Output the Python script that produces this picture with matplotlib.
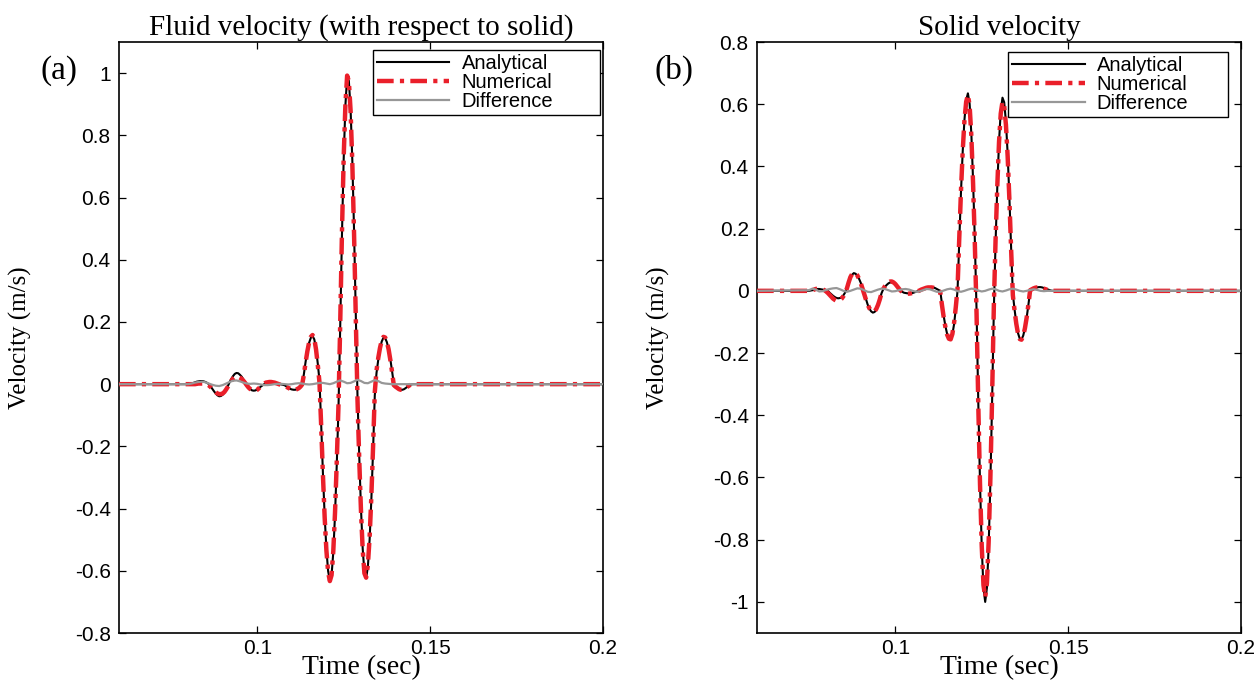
import numpy as np
import matplotlib
matplotlib.use("Agg")
import matplotlib.pyplot as plt

plt.rcParams['lines.scale_dashes'] = False
SANS = ['Liberation Sans', 'DejaVu Sans']
SERIF = ['Liberation Serif', 'DejaVu Serif']

# ---------------- data ----------------
# dense sampling grid for the wavelets: starts at 0.075 s, step 0.5 ms
T0_DENSE = 0.075
DT_DENSE = 0.0005
# difference curves: starts at 0.075 s, step 1 ms
T0_DIFF = 0.075
DT_DIFF = 0.001
T_MIN, T_MAX = 0.06, 0.2

# (a) fluid velocity (with respect to solid), rows of 10 samples (0.005 s)
fluid_analytical = [
    0, 0, 0, 0, 0, 0, 0, 0, 0, 0,                                              # 0.0750
    0.000, 0.001, 0.002, 0.004, 0.006, 0.008, 0.009, 0.010, 0.010, 0.009,      # 0.0800
    0.007, 0.004, 0.000, -0.007, -0.015, -0.023, -0.030, -0.036, -0.039, -0.038,  # 0.0850
    -0.034, -0.027, -0.017, -0.006, 0.006, 0.017, 0.026, 0.033, 0.036, 0.035,  # 0.0900
    0.030, 0.024, 0.015, 0.006, -0.003, -0.010, -0.016, -0.020, -0.021, -0.020,  # 0.0950
    -0.017, -0.013, -0.008, -0.004, 0.000, 0.002, 0.003, 0.004, 0.004, 0.004,  # 0.1000
    0.003, 0.002, 0.001, 0.000, -0.001, -0.002, -0.004, -0.008, -0.012, -0.015,  # 0.1050
    -0.017, -0.018, -0.018, -0.016, -0.012, -0.006, 0.000, 0.033, 0.073, 0.107,  # 0.1100
    0.133, 0.149, 0.155, 0.144, 0.114, 0.067, 0.012, -0.131, -0.287, -0.423,   # 0.1150
    -0.530, -0.601, -0.631, -0.614, -0.540, -0.419, -0.259, -0.077, 0.185, 0.477,  # 0.1200
    0.722, 0.896, 0.990, 0.975, 0.884, 0.720, 0.495, 0.228, -0.039, -0.230,    # 0.1250
    -0.398, -0.528, -0.606, -0.624, -0.587, -0.501, -0.373, -0.214, -0.036, 0.036,  # 0.1300
    0.078, 0.112, 0.137, 0.149, 0.148, 0.135, 0.112, 0.080, 0.042, 0.000,     # 0.1350
    -0.006, -0.011, -0.015, -0.018, -0.018, -0.016, -0.012, -0.008, -0.004, -0.001,  # 0.1400
    0.000, 0.000, 0.000,                                                       # 0.1450
]
fluid_numerical = [
    0, 0, 0, 0, 0, 0, 0, 0, 0, 0,
    0.000, 0.000, 0.000, 0.000, 0.000, 0.001, 0.002, 0.002, 0.002, 0.002,
    0.001, -0.001, -0.004, -0.009, -0.015, -0.021, -0.026, -0.030, -0.032, -0.032,
    -0.030, -0.025, -0.017, -0.008, 0.002, 0.011, 0.018, 0.023, 0.025, 0.024,
    0.021, 0.017, 0.011, 0.004, -0.004, -0.011, -0.016, -0.020, -0.022, -0.021,
    -0.018, -0.013, -0.007, -0.002, 0.002, 0.005, 0.006, 0.007, 0.007, 0.006,
    0.005, 0.003, 0.001, -0.001, -0.003, -0.004, -0.006, -0.009, -0.012, -0.015,
    -0.017, -0.018, -0.018, -0.016, -0.013, -0.008, -0.001, 0.031, 0.071, 0.106,
    0.134, 0.152, 0.158, 0.146, 0.112, 0.063, 0.006, -0.136, -0.292, -0.428,
    -0.534, -0.604, -0.633, -0.614, -0.536, -0.412, -0.250, -0.067, 0.195, 0.485,
    0.727, 0.899, 0.992, 0.974, 0.879, 0.712, 0.485, 0.216, -0.050, -0.240,
    -0.405, -0.532, -0.608, -0.622, -0.582, -0.494, -0.363, -0.203, -0.026, 0.044,
    0.084, 0.116, 0.140, 0.152, 0.150, 0.136, 0.112, 0.078, 0.039, -0.003,
    -0.008, -0.012, -0.016, -0.018, -0.018, -0.016, -0.012, -0.008, -0.004, -0.001,
    0.000, 0.000, 0.000,
]
fluid_difference = [
    0, 0, 0, 0, 0,                                                             # 0.075
    0.000, 0.002, 0.005, 0.007, 0.008, 0.006, 0.002, -0.002, -0.005, -0.006,   # 0.080
    -0.003, 0.002, 0.007, 0.011, 0.012, 0.009, 0.005, 0.002, 0.001, 0.002,     # 0.090
    0.001, -0.001, -0.003, -0.003, -0.002, 0.000, 0.001, 0.001, 0.000, -0.001, # 0.100
    0.000, 0.002, 0.003, 0.002, 0.000, -0.001, 0.000, 0.002, 0.004, 0.004,     # 0.110
    0.002, 0.000, 0.003, 0.008, 0.012, 0.008, 0.003, 0.004, 0.009, 0.014,      # 0.120
    0.010, 0.004, 0.003, 0.008, 0.013, 0.010, 0.004, 0.002, 0.001, 0.000,      # 0.130
    0, 0, 0, 0, 0, 0, 0,                                                       # 0.140
]

# (b) solid velocity
solid_analytical = [
    0.000, 0.001, 0.002, 0.003, 0.005, 0.006, 0.006, 0.005, 0.004, 0.003,      # 0.0750
    0.001, 0.000, -0.006, -0.011, -0.016, -0.020, -0.023, -0.024, -0.023, -0.020,  # 0.0800
    -0.014, -0.005, 0.008, 0.026, 0.042, 0.052, 0.057, 0.055, 0.049, 0.039,    # 0.0850
    0.026, 0.010, -0.008, -0.027, -0.044, -0.057, -0.066, -0.070, -0.068, -0.060,  # 0.0900
    -0.046, -0.029, -0.008, 0.005, 0.013, 0.019, 0.024, 0.027, 0.027, 0.025,   # 0.0950
    0.021, 0.015, 0.008, 0.000, -0.003, -0.006, -0.007, -0.008, -0.008, -0.008,  # 0.1000
    -0.007, -0.005, -0.003, -0.001, 0.000, 0.003, 0.006, 0.009, 0.011, 0.012,  # 0.1050
    0.012, 0.012, 0.011, 0.009, 0.006, 0.003, 0.000, -0.042, -0.081, -0.114,   # 0.1100
    -0.139, -0.153, -0.157, -0.141, -0.107, -0.057, 0.000, 0.164, 0.318, 0.449,  # 0.1150
    0.550, 0.613, 0.635, 0.601, 0.504, 0.353, 0.164, -0.061, -0.355, -0.617,   # 0.1200
    -0.823, -0.955, -1.000, -0.955, -0.823, -0.617, -0.355, -0.061, 0.155, 0.333,  # 0.1250
    0.479, 0.578, 0.621, 0.606, 0.544, 0.440, 0.300, 0.139, -0.010, -0.060,    # 0.1300
    -0.103, -0.136, -0.154, -0.156, -0.144, -0.120, -0.086, -0.045, 0.000, 0.003,  # 0.1350
    0.006, 0.009, 0.011, 0.012, 0.012, 0.011, 0.009, 0.007, 0.005, 0.003,      # 0.1400
    0.001, 0.000, 0.000,                                                       # 0.1450
]
solid_numerical = [
    0.000, 0.001, 0.002, 0.004, 0.006, 0.007, 0.008, 0.007, 0.005, 0.002,
    -0.002, -0.007, -0.013, -0.019, -0.025, -0.029, -0.032, -0.032, -0.030, -0.025,
    -0.017, -0.006, 0.008, 0.027, 0.044, 0.054, 0.059, 0.057, 0.050, 0.039,
    0.025, 0.008, -0.010, -0.028, -0.044, -0.056, -0.064, -0.067, -0.066, -0.058,
    -0.045, -0.028, -0.008, 0.006, 0.015, 0.022, 0.027, 0.030, 0.030, 0.027,
    0.022, 0.015, 0.008, 0.001, -0.003, -0.006, -0.008, -0.009, -0.009, -0.008,
    -0.007, -0.005, -0.003, -0.001, 0.001, 0.004, 0.006, 0.008, 0.010, 0.011,
    0.011, 0.011, 0.010, 0.008, 0.005, 0.001, -0.004, -0.046, -0.085, -0.117,
    -0.141, -0.154, -0.156, -0.139, -0.103, -0.052, 0.007, 0.170, 0.322, 0.450,
    0.548, 0.608, 0.630, 0.595, 0.497, 0.344, 0.154, -0.072, -0.364, -0.620,
    -0.820, -0.946, -0.985, -0.940, -0.808, -0.603, -0.342, -0.050, 0.163, 0.336,
    0.478, 0.570, 0.608, 0.594, 0.534, 0.432, 0.293, 0.134, -0.014, -0.064,
    -0.106, -0.138, -0.155, -0.157, -0.145, -0.120, -0.086, -0.044, 0.002, 0.005,
    0.008, 0.010, 0.011, 0.011, 0.010, 0.009, 0.007, 0.005, 0.003, 0.001,
    0.000, 0.000, 0.000,
]
solid_difference = [
    0.002, 0.007, 0.004, -0.002, -0.001,                                       # 0.075
    0.003, 0.006, 0.008, 0.009, 0.005, 0.000, -0.003, 0.000, 0.004, 0.008,     # 0.080
    0.007, 0.002, -0.003, -0.004, 0.000, 0.004, 0.007, 0.006, 0.002, -0.002,   # 0.090
    -0.001, 0.002, 0.005, 0.006, 0.004, 0.000, -0.003, -0.002, 0.002, 0.006,   # 0.100
    0.005, 0.001, -0.003, -0.003, 0.001, 0.005, 0.007, 0.004, -0.001, -0.003,  # 0.110
    0.000, 0.004, 0.007, 0.006, 0.001, -0.002, 0.000, 0.004, 0.007, 0.005,     # 0.120
    0.000, -0.002, 0.001, 0.005, 0.007, 0.004, 0.000, -0.002, 0.000, 0.003,    # 0.130
    0.005, 0.003, 0.000, -0.001, 0.000, 0.000, 0.000,                          # 0.140
]

panel_titles = ["Fluid velocity (with respect to solid)", "Solid velocity"]
panel_tags = ["(a)", "(b)"]
legend_labels = ["Analytical", "Numerical", "Difference"]
x_ticks = [0.1, 0.15, 0.2]
x_ticklabels = ["0.1", "0.15", "0.2"]
y_ranges = [(-0.8, 1.1), (-1.1, 0.8)]
y_ticks = [[-0.8, -0.6, -0.4, -0.2, 0, 0.2, 0.4, 0.6, 0.8, 1],
           [-1, -0.8, -0.6, -0.4, -0.2, 0, 0.2, 0.4, 0.6, 0.8]]
y_ticklabels = [["-0.8", "-0.6", "-0.4", "-0.2", "0", "0.2", "0.4", "0.6", "0.8", "1"],
                ["-1", "-0.8", "-0.6", "-0.4", "-0.2", "0", "0.2", "0.4", "0.6", "0.8"]]


def with_ends(t0, dt, vals):
    t = t0 + dt * np.arange(len(vals))
    t = np.concatenate([[T_MIN], t, [T_MAX]])
    v = np.concatenate([[0.0], np.asarray(vals, float), [0.0]])
    return t, v


# ---------------- figure ----------------
fig = plt.figure(figsize=(12.59, 6.83), dpi=100)
axes_rects = [[0.0945, 0.0732, 0.3844, 0.8653], [0.6013, 0.0732, 0.3844, 0.8653]]
legend_boxes = [(0.5248, 0.873, 0.469, 0.113), (0.5186, 0.871, 0.4545, 0.112)]
tag_pos = [(0.047, 0.897), (0.535, 0.897)]

series = [(fluid_analytical, fluid_numerical, fluid_difference),
          (solid_analytical, solid_numerical, solid_difference)]

RED = '#EA1F2A'
GREY = '#979797'

for i in range(2):
    ax = fig.add_axes(axes_rects[i])
    ana, num, dif = series[i]
    ta, va = with_ends(T0_DENSE, DT_DENSE, ana)
    tn, vn = with_ends(T0_DENSE, DT_DENSE, num)
    td, vd = with_ends(T0_DIFF, DT_DIFF, dif)
    ax.plot(ta, va, color='black', lw=1.5, label=legend_labels[0], zorder=2)
    ax.plot(tn, vn, color=RED, lw=3.2, dashes=(12, 4.5, 3, 4.5),
            dash_capstyle='butt', label=legend_labels[1], zorder=3)
    ax.plot(td, vd, color=GREY, lw=1.6, label=legend_labels[2], zorder=4)

    ax.set_xlim(T_MIN, T_MAX)
    ax.set_ylim(*y_ranges[i])
    ax.set_xticks(x_ticks)
    ax.set_xticklabels(x_ticklabels, family=SANS, fontsize=15)
    ax.set_yticks(y_ticks[i])
    ax.set_yticklabels(y_ticklabels[i], family=SANS, fontsize=15)
    ax.tick_params(direction='in', length=5, width=0.9, top=True, right=True,
                   pad=6, color='black')
    ax.tick_params(axis='x', pad=4)
    for sp in ax.spines.values():
        sp.set_linewidth(1.2)

    ax.set_title(panel_titles[i], family=SERIF, fontsize=21, pad=5)
    ax.set_xlabel("Time (sec)", family=SERIF, fontsize=20, labelpad=-1.5)
    ax.set_ylabel("Velocity (m/s)", family=SERIF, fontsize=18)
    ax.yaxis.set_label_coords(-0.18, 0.5)

    leg = ax.legend(loc='upper left', bbox_to_anchor=legend_boxes[i], mode='expand',
                    borderaxespad=0, prop={'family': SANS, 'size': 14.5},
                    handlelength=3.6, handletextpad=0.6, borderpad=0.2,
                    labelspacing=0.0, fancybox=False, framealpha=1,
                    edgecolor='black')
    leg.get_frame().set_linewidth(1.0)

    fig.text(tag_pos[i][0], tag_pos[i][1], panel_tags[i], family=SERIF,
             fontsize=24, ha='center', va='center')

fig.savefig("out.png", dpi=100)
